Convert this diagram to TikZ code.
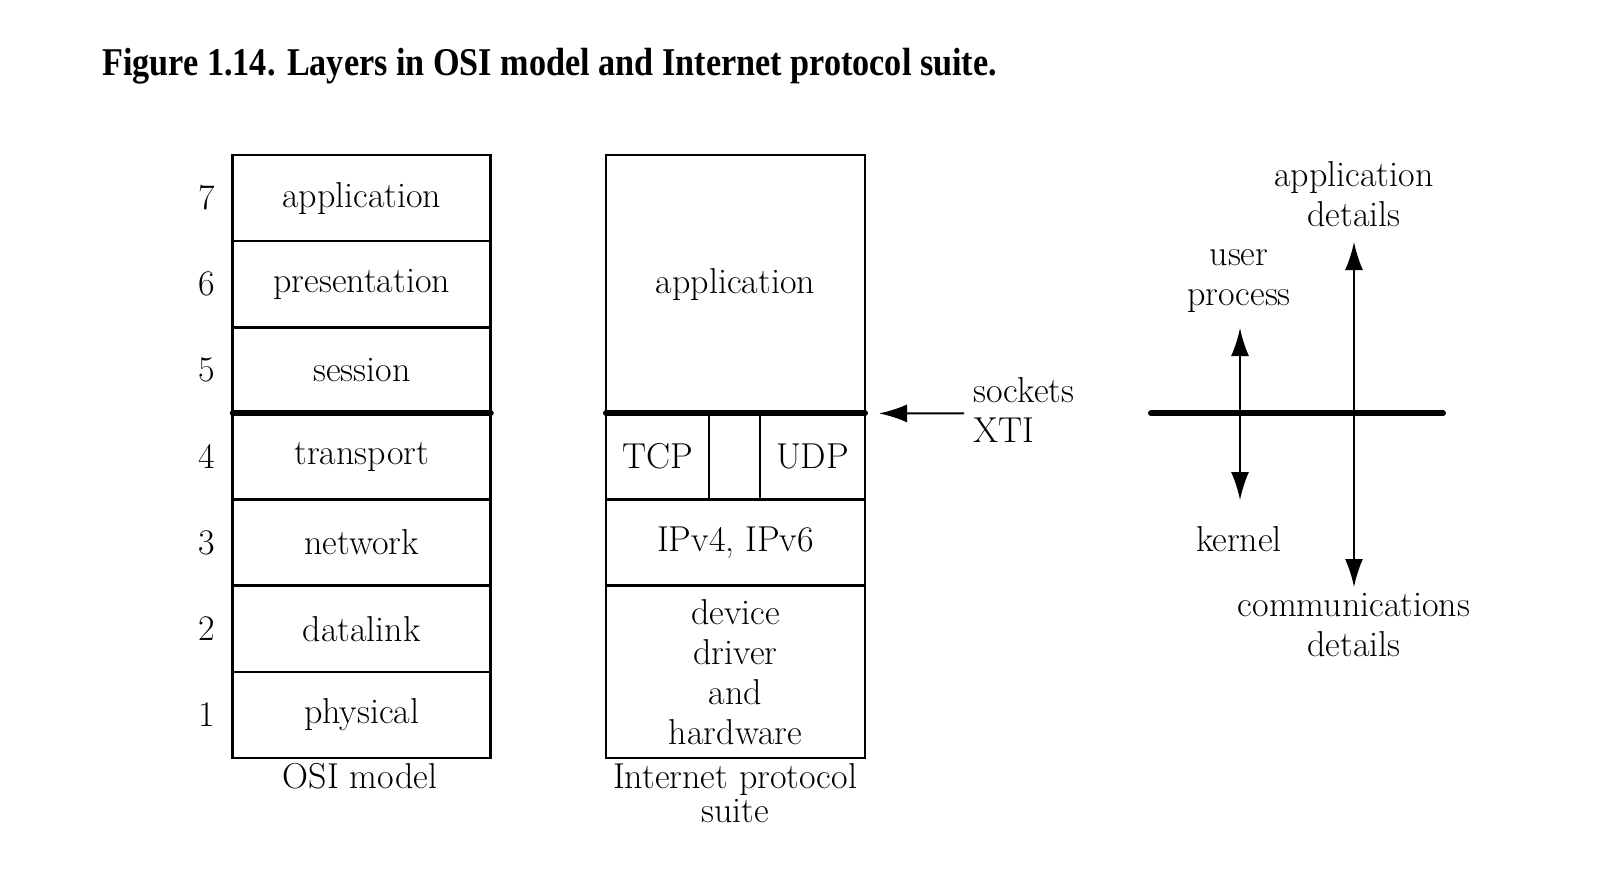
\documentclass[tikz,border=0pt]{standalone}
\usepackage{fontspec}
\newfontfamily\titlefont{Liberation Serif}
\usetikzlibrary{arrows.meta}
\begin{document}
\begin{tikzpicture}[x=0.5pt,y=-0.5pt,
  layer/.style={draw, line width=1.3pt, minimum width=129pt, minimum height=43.07pt, inner sep=0pt, outer sep=0pt, font=\fontsize{18}{20}\selectfont},
  lbl/.style={font=\fontsize{18}{20}\selectfont, align=center, inner sep=0pt},
  boundary/.style={line width=3pt, line cap=round},
  arr/.style={line width=1pt, -{Latex[length=14pt,width=9pt]}},
  darr/.style={line width=1pt, {Latex[length=14pt,width=9pt]}-{Latex[length=14pt,width=9pt]}},
  ]
\useasboundingbox (0,0) rectangle (1600,879);
\node[anchor=west, inner sep=0pt, font=\titlefont\bfseries\fontsize{17.1}{20}\selectfont] (title) at (102,66) {\scalebox{1}[1.15]{Figure 1.14. Layers in OSI model and Internet protocol suite.}};
% OSI model
\foreach \n/\t [count=\i from 0] in {7/application,6/presentation,5/session,4/transport,3/network,2/datalink,1/physical} {
  \node[layer] (osi\n) at (361.75,{198.07+86.14*\i}) {\t};
  \node[lbl] (num\n) at (207,{198.07+86.14*\i}) {\n};
}
\draw[boundary] (osi5.south west) -- (osi5.south east);
\node[lbl] (osilbl) at (360,776) {OSI model};
% Internet protocol suite
\node[layer, minimum width=129.5pt, minimum height=129.2pt] (app) at (735.5,284.2) {application};
\node[layer, minimum width=51.5pt] (tcp) at (657.5,456.5) {TCP};
\node[layer, minimum width=25.5pt] (gap) at (734.5,456.5) {};
\node[layer, minimum width=52.5pt] (udp) at (812.5,456.5) {UDP};
\node[layer, minimum width=129.5pt] (ip) at (735.5,542.6) {IPv4, IPv6};
\node[layer, minimum width=129.5pt, minimum height=86.15pt, align=center] (dev) at (735.5,671.9) {device\\driver\\and\\hardware};
\draw[boundary] (app.south west) -- (app.south east);
\node[lbl, font=\fontsize{18}{17}\selectfont] (ipslbl) at (735,793) {Internet protocol\\suite};
% sockets arrow
\coordinate (sockstart) at (964,413.4);
\draw[arr] (sockstart) -- ([xshift=7pt]app.south east);
\node[lbl, anchor=west, align=left] (sock) at (973,410) {sockets\\XTI};
% right diagram
\coordinate (kl) at (1151,413.4);
\coordinate (kr) at (1443,413.4);
\draw[boundary] (kl) -- (kr);
\node[lbl] (appdet) at (1354,194) {application\\details};
\node[lbl] (userp) at (1239,281.5) {user\\process};
\node[lbl] (kern) at (1239,539) {kernel};
\node[lbl] (comm) at (1354,625) {communications\\details};
\coordinate (u1) at (1240,328);
\coordinate (u2) at (1240,500);
\coordinate (a1) at (1354,242);
\coordinate (a2) at (1354,587);
\draw[darr] (u1) -- (u2);
\draw[darr] (a1) -- (a2);
\end{tikzpicture}
\end{document}
